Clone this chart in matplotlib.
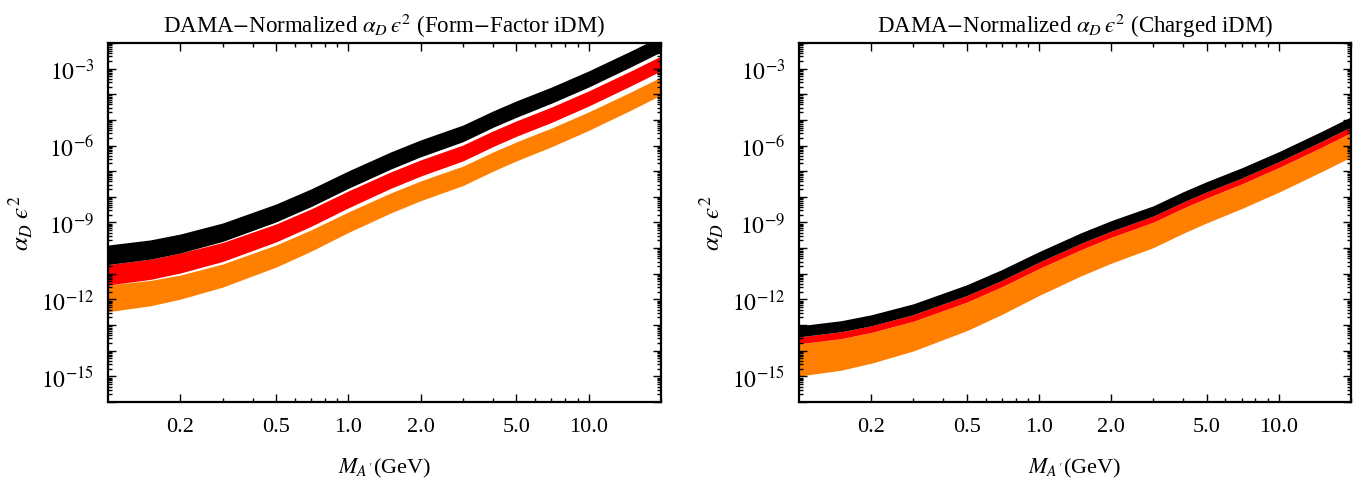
import matplotlib
matplotlib.use('Agg')
import matplotlib.pyplot as plt
import numpy as np
from matplotlib.ticker import FixedLocator, FuncFormatter, NullFormatter

plt.rcParams['font.family'] = ['Liberation Serif', 'DejaVu Serif']
plt.rcParams['mathtext.fontset'] = 'stix'

# dark photon mass (GeV)
mass = [0.1, 0.15, 0.2, 0.3, 0.5, 0.7, 1.0, 1.5, 2.0, 3.0, 4.0, 5.0, 7.0, 10.0, 15.0, 20.0]

# log10(alpha_D eps^2) band edges, form-factor iDM
ff_black_hi = [-9.88, -9.68, -9.45, -9.02, -8.28, -7.69, -6.99, -6.25, -5.78, -5.20, -4.65, -4.26, -3.72, -3.09, -2.31, -1.73]
ff_black_lo = [-10.64, -10.43, -10.19, -9.74, -8.98, -8.38, -7.67, -6.92, -6.44, -5.85, -5.29, -4.90, -4.35, -3.72, -2.93, -2.35]
ff_red_hi = [-10.64, -10.43, -10.19, -9.78, -9.06, -8.47, -7.77, -7.03, -6.56, -5.98, -5.43, -5.04, -4.50, -3.87, -3.09, -2.51]
ff_red_lo = [-11.44, -11.22, -10.97, -10.52, -9.76, -9.15, -8.43, -7.67, -7.19, -6.60, -6.04, -5.64, -5.10, -4.46, -3.67, -3.09]
ff_orange_hi = [-11.44, -11.26, -11.05, -10.62, -9.88, -9.29, -8.59, -7.85, -7.38, -6.80, -6.25, -5.86, -5.32, -4.69, -3.91, -3.33]
ff_orange_lo = [-12.48, -12.25, -11.99, -11.52, -10.74, -10.12, -9.39, -8.63, -8.15, -7.56, -7.00, -6.60, -6.05, -5.41, -4.62, -4.03]

# charged iDM
ch_black_hi = [-13.03, -12.83, -12.60, -12.17, -11.43, -10.84, -10.14, -9.40, -8.93, -8.35, -7.80, -7.41, -6.87, -6.24, -5.46, -4.88]
ch_black_lo = [-13.46, -13.26, -13.03, -12.59, -11.85, -11.26, -10.55, -9.81, -9.34, -8.75, -8.20, -7.81, -7.27, -6.63, -5.85, -5.27]
ch_red_lo = [-13.73, -13.53, -13.29, -12.85, -12.11, -11.51, -10.80, -10.06, -9.58, -8.99, -8.44, -8.05, -7.50, -6.86, -6.08, -5.50]
ch_orange_lo = [-14.99, -14.76, -14.49, -14.01, -13.22, -12.59, -11.85, -11.08, -10.59, -9.98, -9.42, -9.02, -8.46, -7.82, -7.03, -6.45]

xticks = [0.2, 0.5, 1.0, 2.0, 5.0, 10.0]
xminor = [0.3, 0.4, 0.6, 0.7, 0.8, 0.9, 3.0, 4.0, 6.0, 7.0, 8.0, 9.0, 20.0]

titles = ['DAMA$-$Normalized $\\alpha_D\\,\u03f5^2$ (Form$-$Factor iDM)',
          'DAMA$-$Normalized $\\alpha_D\\,\u03f5^2$ (Charged iDM)']

panels = [
    [(ff_orange_lo, ff_orange_hi, '#ff8000'), (ff_red_lo, ff_red_hi, '#ff0000'), (ff_black_lo, ff_black_hi, 'black')],
    [(ch_orange_lo, ch_red_lo, '#ff8000'), (ch_red_lo, ch_black_lo, '#ff0000'), (ch_black_lo, ch_black_hi, 'black')],
]

fig = plt.figure(figsize=(13.69, 4.89), dpi=100)
axes = [fig.add_axes([0.0789, 0.1759, 0.4039, 0.7342]),
        fig.add_axes([0.5836, 0.1759, 0.4032, 0.7342])]

m = np.array(mass)
decades = np.arange(-16, -1)
yminor = [k * 10.0**d for d in decades for k in range(2, 10)]

for ax, bands, title in zip(axes, panels, titles):
    for lo, hi, col in bands:
        ax.fill_between(m, 10.0**np.array(lo), 10.0**np.array(hi), color=col, lw=0,
                        antialiased=False)
    ax.set_xscale('log')
    ax.set_yscale('log')
    ax.set_xlim(0.1, 20)
    ax.set_ylim(1e-16, 1e-2)

    ax.xaxis.set_major_locator(FixedLocator(xticks))
    ax.xaxis.set_major_formatter(FuncFormatter(lambda v, p: f'{v:.1f}'))
    ax.xaxis.set_minor_locator(FixedLocator(xminor))
    ax.xaxis.set_minor_formatter(NullFormatter())

    ax.yaxis.set_major_locator(FixedLocator([10.0**d for d in decades]))
    ax.yaxis.set_major_formatter(FuncFormatter(
        lambda v, p: r'$10^{%d}$' % round(np.log10(v)) if round(np.log10(v)) % 3 == 0 else ''))
    ax.yaxis.set_minor_locator(FixedLocator(yminor))
    ax.yaxis.set_minor_formatter(NullFormatter())

    ax.tick_params(which='both', direction='in', top=True, right=True, width=1)
    ax.tick_params(axis='x', labelsize=16)
    ax.tick_params(axis='y', labelsize=17)
    ax.tick_params(which='major', length=6)
    ax.tick_params(which='minor', length=3)
    ax.tick_params(axis='x', which='major', pad=11)
    ax.tick_params(axis='y', which='major', pad=10)
    for s in ax.spines.values():
        s.set_linewidth(1.6)

    ax.set_title(title, fontsize=16.5, pad=8)
    ax.set_xlabel(r"$M_{A'}$(GeV)", fontsize=16, labelpad=14)
    ax.set_ylabel('$\\alpha_D\\;\u03f5^2$', fontsize=18, labelpad=4)

plt.savefig('out.png', dpi=100)
